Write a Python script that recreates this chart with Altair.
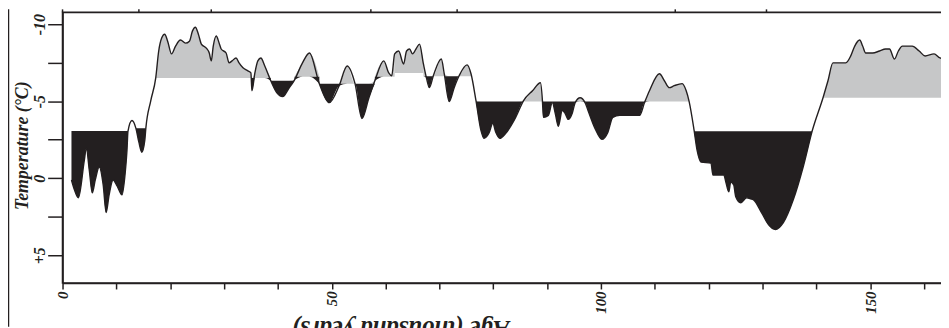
import altair as alt
import pandas as pd

# ---- curve (age in thousand years, temperature in deg C) ----
ages = [1.66, 2.21, 2.95, 4.05, 4.42, 4.97, 5.52, 6.08, 6.81, 7.55, 8.10, 8.65, 9.39, 10.13, 11.05, 11.60, 11.97,
        12.15, 12.89, 13.63, 14.18, 14.73, 15.28, 15.47, 16.39, 17.31, 17.86, 18.41, 18.97, 19.52, 20.25, 20.99,
        21.91, 22.83, 23.57, 24.12, 24.67, 25.23, 25.78, 26.70, 27.25, 27.62, 27.99, 28.54, 29.09, 29.46, 30.38,
        30.93, 31.49, 32.22, 32.78, 33.51, 34.43, 34.98, 35.17, 35.72, 36.27, 36.83, 37.56, 38.67, 39.77, 40.88,
        41.98, 43.09, 44.56, 45.85, 47.69, 49.53, 51.37, 52.85, 54.32, 55.61, 56.90, 58.00, 59.66, 60.58, 61.13,
        61.68, 62.42, 63.34, 63.89, 64.45, 65.00, 65.73, 66.29, 67.02, 67.58, 68.13, 68.86, 70.34, 70.89, 71.81,
        72.73, 73.65, 75.12, 75.86, 76.78, 77.70, 78.26, 79.18, 79.91, 80.46, 81.20, 82.31, 84.15, 85.62, 87.28,
        88.75, 89.12, 89.30, 90.22, 90.96, 91.51, 92.07, 92.80, 93.35, 93.91, 94.64, 95.20, 96.12, 97.04, 97.59,
        98.88, 100.17, 101.27, 102.19, 103.48, 104.40, 107.16, 108.08, 109.00, 110.85, 111.77, 112.69, 113.61,
        115.08, 115.82, 116.37, 117.29, 117.84, 118.58, 120.42, 120.79, 122.81, 123.18, 123.73, 124.10, 124.65,
        125.02, 125.94, 127.05, 127.79, 128.34, 129.81, 131.10, 132.39, 133.86, 135.70, 137.54, 139.20, 141.23,
        142.15, 143.07, 145.46, 146.38, 147.12, 148.04, 148.59, 149.15, 150.44, 151.72, 152.83, 153.57, 154.49,
        155.22, 155.96, 157.80, 159.09, 160.19, 161.85, 162.95, 164.24]
temps = [0.11, 0.75, 1.27, -1.18, -1.95, -0.53, 0.95, 0.11, -0.73, 0.43, 2.23, 1.08, 0.11, 0.50, 1.08, -0.21, -1.82,
         -3.05, -3.75, -3.24, -2.34, -1.69, -2.47, -3.24, -5.04, -6.52, -8.26, -9.10, -9.35, -8.90, -8.07, -8.58,
         -8.97, -8.77, -8.90, -9.55, -9.80, -9.35, -8.71, -8.45, -8.13, -7.62, -8.58, -9.23, -8.77, -8.39, -8.13,
         -7.49, -7.62, -7.81, -7.49, -7.17, -6.97, -6.84, -5.68, -6.84, -7.62, -7.81, -7.29, -6.33, -5.56, -5.30,
         -5.81, -6.39, -7.49, -8.13, -6.14, -4.91, -6.01, -7.29, -6.14, -3.88, -5.23, -6.33, -7.62, -6.84, -6.65,
         -8.07, -8.26, -7.42, -8.26, -8.39, -8.07, -8.45, -8.71, -7.42, -6.52, -5.88, -6.65, -7.74, -6.78, -4.98,
         -5.88, -6.65, -7.36, -6.78, -5.04, -3.11, -2.59, -2.92, -3.56, -2.98, -2.59, -2.92, -3.95, -5.04, -5.68,
         -6.20, -5.04, -3.95, -4.08, -4.91, -4.20, -3.37, -4.40, -4.20, -3.82, -4.20, -4.91, -5.23, -4.91, -4.40,
         -3.24, -2.53, -2.98, -3.95, -4.08, -4.08, -4.08, -4.91, -5.68, -6.78, -6.33, -5.88, -6.01,
         -6.14, -5.68, -4.98, -3.11, -1.82, -1.05, -0.98, -0.21, -0.21, 0.24, 0.88, 0.24, 0.43,
         1.20, 1.59, 1.27, 1.33, 1.40, 2.23, 3.01, 3.33, 2.88, 1.40, -0.73, -3.05, -5.23,
         -6.33, -7.49, -7.49, -7.94, -8.58, -8.97, -8.58, -8.13, -8.13, -8.26, -8.39, -8.39, -7.74,
         -8.26, -8.58, -8.58, -8.26, -7.94, -8.07, -7.81, -7.74]

# ---- reference levels for the shaded departures ----
seg_start = [1.66, 13.63, 17.31, 38.67, 43.09, 47.69, 58.00, 61.68, 67.02, 76.78, 117.29, 141.23]
seg_end = [12.15, 15.47, 38.67, 43.09, 47.69, 58.00, 61.68, 67.02, 75.86, 116.37, 139.20, 164.24]
seg_base = [-3.06, -3.24, -6.50, -6.33, -6.59, -6.14, -6.59, -6.84, -6.62, -4.98, -3.05, -5.23]

# divisions of the panel above (cut off)
upper_divisions = [0, 14.18, 27.62, 57.26, 73.28, 113.79, 130.73]

x_ticks = list(range(0, 170, 10))
y_ticks = [-10, -7.5, -5, -2.5, 0, 2.5, 5]

INK = "#231f20"
GREY = "#c6c7c8"
SERIF = "Liberation Serif"

curve = pd.DataFrame({"age": ages, "temp": temps})
rows = []
for i, (s, e, b) in enumerate(zip(seg_start, seg_end, seg_base)):
    for a, t in zip(ages, temps):
        if s - 1e-9 <= a <= e + 1e-9:
            rows.append({"seg": i, "age": a, "temp": t, "base": b,
                         "cold": min(t, b), "warm": max(t, b)})
shade = pd.DataFrame(rows)

x_scale = alt.Scale(domain=[0, 164.06], nice=False, zero=False)
y_scale = alt.Scale(domain=[-10.77, 6.80], reverse=True, nice=False, zero=False)

x_axis = alt.Axis(
    values=x_ticks, labelExpr="datum.value % 50 == 0 ? datum.label : ''",
    tickSize=6, labelAngle=270, labelAlign="right", labelBaseline="middle",
    labelPadding=2, labelFontSize=15, labelOverlap=False, labelFlush=False,
    grid=False, title="Age (thousand years)", titleAngle=180, titleFontSize=25,
    titleX=340.5, titleY=38, titleAlign="center", titleBaseline="alphabetic",
)
y_axis = alt.Axis(
    values=y_ticks,
    labelExpr="datum.value % 5 == 0 ? (datum.value > 0 ? '+' + datum.value : '' + datum.value) : ''",
    tickSize=15, labelAngle=270, labelAlign="center", labelBaseline="alphabetic",
    labelPadding=3, labelFontSize=16, labelOverlap=False, labelFlush=False,
    grid=False, title="Temperature (\u00b0C)", titleAngle=270, titleFontSize=18,
    titleX=-35.5, titleY=134, titleAlign="center", titleBaseline="alphabetic",
)

X = alt.X("age:Q", scale=x_scale, axis=x_axis)

grey_area = alt.Chart(shade).mark_area(color=GREY, interpolate="monotone").encode(
    x=X, y=alt.Y("base:Q", scale=y_scale, axis=y_axis), y2="cold:Q", detail="seg:N")
black_area = alt.Chart(shade).mark_area(color=INK, interpolate="monotone").encode(
    x=X, y=alt.Y("base:Q", scale=y_scale, axis=y_axis), y2="warm:Q", detail="seg:N")
line = alt.Chart(curve).mark_line(color=INK, strokeWidth=1.4, interpolate="monotone").encode(
    x=X, y=alt.Y("temp:Q", scale=y_scale, axis=y_axis))

stubs = alt.Chart(pd.DataFrame({"age": upper_divisions})).mark_rule(color=INK, strokeWidth=1.5).encode(
    x=X, y=alt.value(-3), y2=alt.value(0))
border = alt.Chart(pd.DataFrame({"k": [0]})).mark_rule(color=INK, strokeWidth=1.5).encode(
    x=alt.value(-54.5), y=alt.value(-3), y2=alt.value(317))

chart = alt.layer(grey_area, black_area, line, stubs, border).properties(
    width=891, height=273,
    autosize=alt.AutoSizeParams(type="none"),
    padding={"left": 55, "top": 3, "right": -5, "bottom": 44},
    background="white",
).configure_view(stroke=INK, strokeWidth=1.6).configure_axis(
    domainColor=INK, domainWidth=1.6, tickColor=INK, tickWidth=1.5,
    labelFont=SERIF, labelFontStyle="italic", labelFontWeight="bold", labelColor=INK,
    titleFont=SERIF, titleFontStyle="italic", titleFontWeight="bold", titleColor=INK,
)

chart.save("out.html", embed_options={"renderer": "svg", "actions": False})
